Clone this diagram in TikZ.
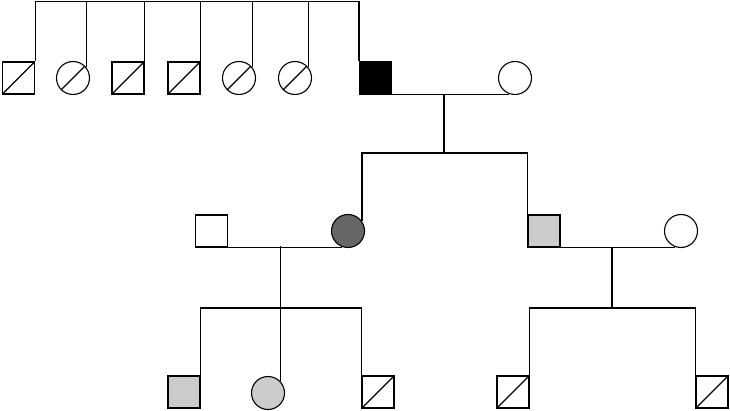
\documentclass[tikz,border=0pt]{standalone}
\usetikzlibrary{calc}
\definecolor{darkfill}{HTML}{666666}
\definecolor{lightfill}{HTML}{CCCCCC}
\begin{document}
\begin{tikzpicture}[x=1pt,y=-1pt,line width=1.1pt,
  male/.style={draw,rectangle,minimum size=32pt,inner sep=0pt},
  female/.style={draw,circle,minimum size=33pt,inner sep=0pt},
  dec/.style={path picture={\draw[line width=1.1pt] (path picture bounding box.south west) -- (path picture bounding box.north east);}},
  link/.style={draw,line width=1.1pt}]
\useasboundingbox[fill=white] (0,0) rectangle (730,411);
% generation I
\node[male,dec]   (s1) at (18.5,78) {};
\node[female,dec] (c2) at (73,78) {};
\node[male,dec]   (s3) at (128,78) {};
\node[male,dec]   (s4) at (184,78) {};
\node[female,dec] (c5) at (239,78) {};
\node[female,dec] (c6) at (295,78) {};
\node[male,fill=black] (bk) at (375.5,78) {};
\node[female] (w1) at (515,78) {};
% generation II
\node[male] (h1) at (211.5,231) {};
\node[female,fill=darkfill] (d1) at (348,231) {};
\node[male,fill=lightfill] (g1) at (544,231) {};
\node[female] (w2) at (681,231) {};
% generation III
\node[male,fill=lightfill] (a1) at (184,392) {};
\node[female,fill=lightfill] (a2) at (268,393) {};
\node[male,dec] (a3) at (378,392) {};
\node[male,dec] (b1) at (513,392) {};
\node[male,dec] (b2) at (712,392) {};
% junctions
\coordinate (tb) at (0,1.5);
\coordinate (m1) at (444,94);
\coordinate (sb1) at (444,153);
\coordinate (m2) at (280,247);
\coordinate (sb2) at (280,308);
\coordinate (m3) at (612,247);
\coordinate (sb3) at (612,308);
% sibship of generation I
\draw[link] (s1.north east) -- (s1.north east |- tb) -| (bk.north west);
\draw[link] (c2.40) -- (c2.40 |- tb);
\draw[link] (s3.north east) -- (s3.north east |- tb);
\draw[link] (s4.north east) -- (s4.north east |- tb);
\draw[link] (c5.40) -- (c5.40 |- tb);
\draw[link] (c6.40) -- (c6.40 |- tb);
% marriage I
\draw[link] (bk.south east) -- (bk.south east -| w1.250);
\draw[link] (m1) -- (sb1);
\draw[link] (d1.35) |- (sb1) -| (g1.north west);
% marriages II
\draw[link] (h1.south east) -- (h1.south east -| d1.250);
\draw[link] (m2) -- (a2.45 |- m2) -- (a2.45);
\draw[link] (a1.north east) |- (sb2) -| (a3.north west);
\draw[link] (g1.south east) -- (g1.south east -| w2.250);
\draw[link] (m3) -- (sb3);
\draw[link] (b1.north east) |- (sb3) -| (b2.north west);
\end{tikzpicture}
\end{document}
